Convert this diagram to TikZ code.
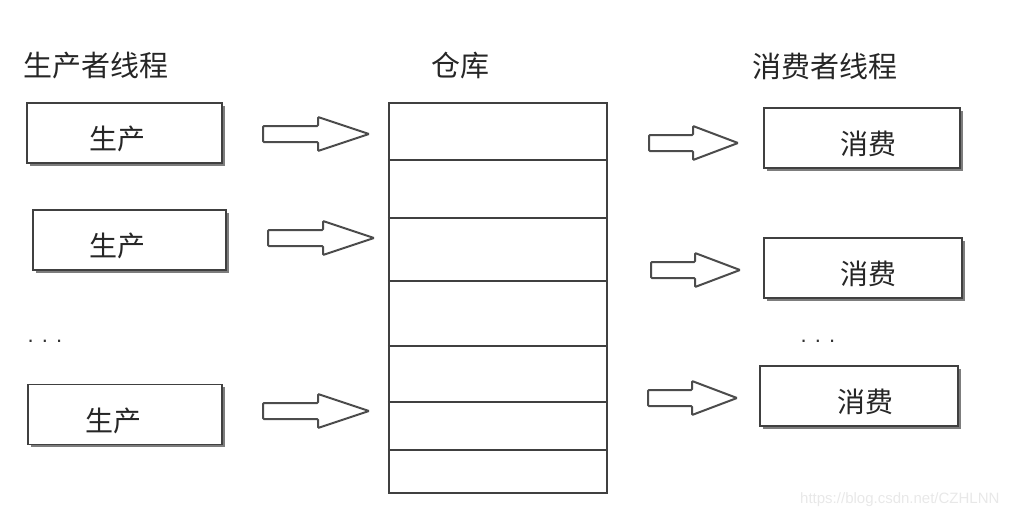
\documentclass[tikz,border=0pt]{standalone}
\usepackage{fontspec}
\newfontfamily\cjk{Noto Sans CJK SC}
\setsansfont{Liberation Sans}
\usetikzlibrary{shadows}
\tikzset{
  thread/.style={draw=black!75, line width=1.6pt, fill=white, minimum width=195pt, minimum height=60pt,
    drop shadow={shadow xshift=2.5pt, shadow yshift=-2.5pt, fill=black!60, opacity=0.85}},
  lbl/.style={font=\cjk\fontsize{28}{32}\selectfont, text=black!85, yshift=-6pt},
  head/.style={font=\cjk\fontsize{29}{34}\selectfont, text=black!85, yshift=-1pt},
  bigarrow/.style={draw=black!70, line width=2pt, fill=white, rounded corners=1pt},
  shelf/.style={draw=black!75, line width=2pt},
  dots/.style={font=\sffamily\fontsize{22}{24}\selectfont, text=black!80},
}
\newcommand{\fatarrow}[4]{% x0, xh, xtip, y
  \draw[bigarrow] (#1,#4-8) -- (#2,#4-8) -- (#2,#4-17) -- (#3,#4) -- (#2,#4+17) -- (#2,#4+8) -- (#1,#4+8) -- cycle;}
\begin{document}
\begin{tikzpicture}[x=1pt,y=-1pt]
\useasboundingbox (0,0) rectangle (1011,520);
% headers
\node[head] (hp) at (96,65) {生产者线程};
\node[head] (hw) at (460,65) {仓库};
\node[head] (hc) at (825,65) {消费者线程};
% producers
\node[thread, minimum width=195pt] (p1) at (124.5,133) {};
\node[lbl] at (p1) [xshift=-7pt] {生产};
\node[thread, minimum width=193pt] (p2) at (129.5,240) {};
\node[lbl] at (p2) [xshift=-12pt] {生产};
\node[thread, minimum width=194pt] (p3) at (125,414.5) {};
\node[lbl] at (p3) [xshift=-12pt] {生产};
\node[dots] (pd) at (45,341) {. . .};
% warehouse
\node[draw=black!75, line width=2.2pt, minimum width=218pt, minimum height=390pt, inner sep=0pt] (wh) at (498,298) {};
\foreach \yy in {160,218,281,346,402,450}{
  \draw[shelf] (wh.west |- 0,\yy) -- (wh.east |- 0,\yy);
}
% producer arrows
\fatarrow{263}{318}{369}{134}
\fatarrow{268}{323}{374}{238}
\fatarrow{263}{318}{369}{411}
% consumer arrows
\fatarrow{649}{693}{738}{143}
\fatarrow{651}{695}{740}{270}
\fatarrow{648}{692}{737}{398}
% consumers
\node[thread, minimum width=196pt] (c1) at (862,138) {};
\node[lbl] at (c1) [xshift=6pt] {消费};
\node[thread, minimum width=198pt] (c2) at (863,268) {};
\node[lbl] at (c2) [xshift=5pt] {消费};
\node[thread, minimum width=198pt] (c3) at (859,396) {};
\node[lbl] at (c3) [xshift=6pt] {消费};
\node[dots] (cd) at (818,341) {. . .};
% watermark
\node[font=\sffamily\fontsize{15}{17}\selectfont, text=black!9, anchor=east] (wm) at (1003,500) {https://blog.csdn.net/CZHLNN};
\end{tikzpicture}
\end{document}
